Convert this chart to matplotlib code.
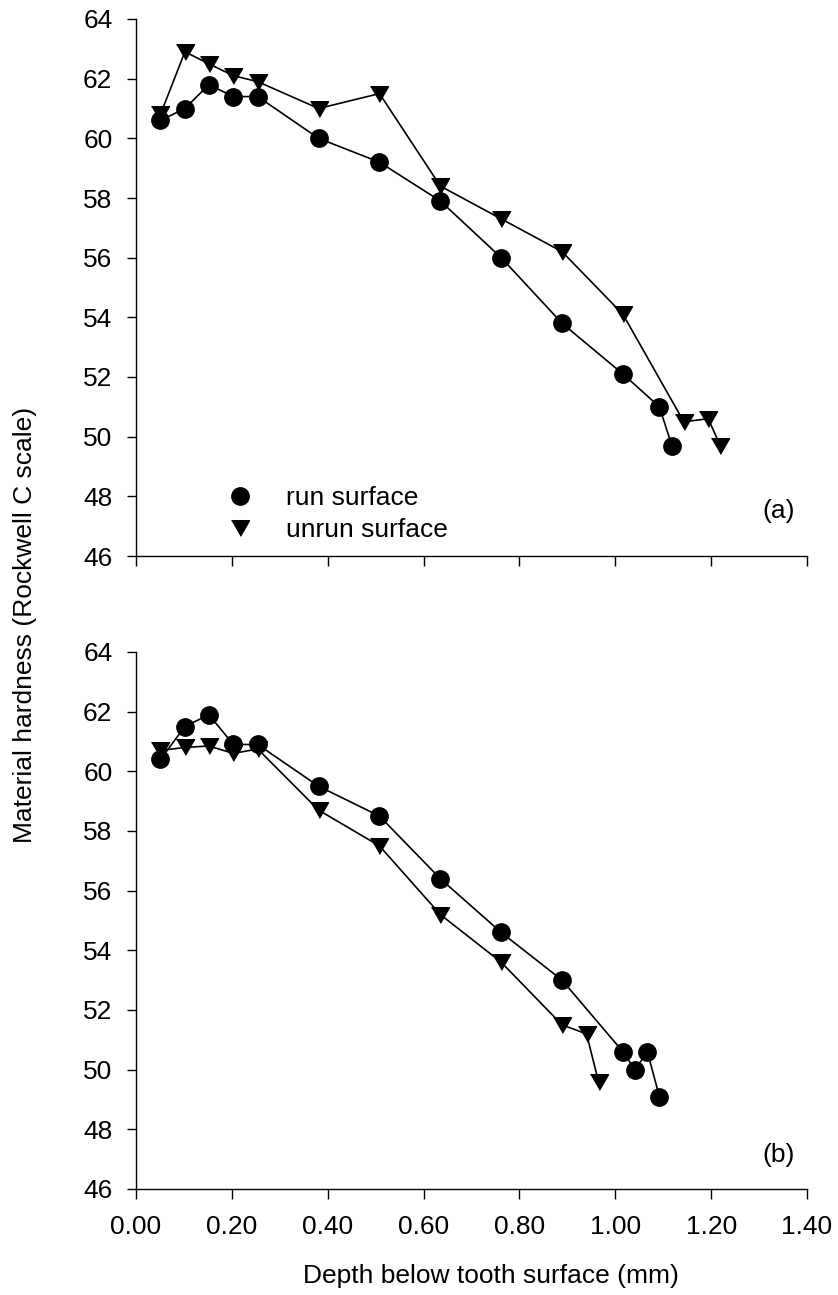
import matplotlib
matplotlib.use("Agg")
import matplotlib.pyplot as plt
from matplotlib.lines import Line2D

plt.rcParams['font.family'] = ['Liberation Sans', 'DejaVu Sans']

# ---- data (depth in mm, hardness HRC) ----
a_run_x = [0.051, 0.102, 0.152, 0.203, 0.254, 0.381, 0.508, 0.635, 0.762, 0.889, 1.016, 1.092, 1.118]
a_run_y = [60.6, 61.0, 61.8, 61.4, 61.4, 60.0, 59.2, 57.9, 56.0, 53.8, 52.1, 51.0, 49.7]
a_unrun_x = [0.051, 0.102, 0.152, 0.203, 0.254, 0.381, 0.508, 0.635, 0.762, 0.889, 1.016, 1.143, 1.194, 1.219]
a_unrun_y = [60.8, 62.9, 62.5, 62.1, 61.9, 61.0, 61.5, 58.4, 57.3, 56.2, 54.1, 50.5, 50.6, 49.7]

b_run_x = [0.051, 0.102, 0.152, 0.203, 0.254, 0.381, 0.508, 0.635, 0.762, 0.889, 1.016, 1.041, 1.067, 1.092]
b_run_y = [60.4, 61.5, 61.9, 60.9, 60.9, 59.5, 58.5, 56.4, 54.6, 53.0, 50.6, 50.0, 50.6, 49.1]
b_unrun_x = [0.051, 0.102, 0.152, 0.203, 0.254, 0.381, 0.508, 0.635, 0.762, 0.889, 0.940, 0.965]
b_unrun_y = [60.7, 60.8, 60.85, 60.6, 60.75, 58.7, 57.5, 55.2, 53.6, 51.5, 51.2, 49.6]

x_ticks = [0.0, 0.2, 0.4, 0.6, 0.8, 1.0, 1.2, 1.4]
x_ticklabels = ['0.00', '0.20', '0.40', '0.60', '0.80', '1.00', '1.20', '1.40']
y_ticks = [46, 48, 50, 52, 54, 56, 58, 60, 62, 64]
labels = ['run surface', 'unrun surface']
panel_tags = ['(a)', '(b)']

W, H = 838, 1295
fig = plt.figure(figsize=(W / 100, H / 100), dpi=100)

tri = [(-1, 0.866), (1, 0.866), (0, -0.866)]
FS = 19
circ_kw = dict(marker='o', markersize=12.5, color='black', linewidth=1.2)
tri_kw = dict(marker=tri, markersize=13, color='black', linewidth=1.2)

def make_ax(top_px, bot_px):
    left, right = 136, 807
    return fig.add_axes([left / W, 1 - bot_px / H, (right - left) / W, (bot_px - top_px) / H])

ax1 = make_ax(19, 556)
ax2 = make_ax(652, 1189)

tag_y = [0.084, 0.063]
for ax, (rx, ry, ux, uy), tag, ty in zip(
        [ax1, ax2],
        [(a_run_x, a_run_y, a_unrun_x, a_unrun_y), (b_run_x, b_run_y, b_unrun_x, b_unrun_y)],
        panel_tags, tag_y):
    ax.plot(ux, uy, **tri_kw, zorder=3)
    ax.plot(rx, ry, **circ_kw, zorder=4)
    ax.set_xlim(0, 1.4)
    ax.set_ylim(46, 64)
    ax.set_xticks(x_ticks)
    ax.set_yticks(y_ticks)
    ax.spines['top'].set_visible(False)
    ax.spines['right'].set_visible(False)
    for s in ['left', 'bottom']:
        ax.spines[s].set_linewidth(1.0)
    ax.tick_params(axis='y', direction='out', length=6.5, width=1.0, labelsize=FS, pad=10.5)
    ax.tick_params(axis='x', direction='out', length=7, width=1.0, labelsize=FS, pad=12)
    ax.text(0.958, ty, tag, transform=ax.transAxes, fontsize=FS, ha='center', va='center')

ax1.set_xticklabels([])
ax2.set_xticklabels(x_ticklabels)

handles = [Line2D([], [], linestyle='none', marker='o', markersize=12.5, color='black'),
           Line2D([], [], linestyle='none', marker=tri, markersize=13, color='black')]
ax1.legend(handles, labels, loc='center left', bbox_to_anchor=(0.135, 0.0785),
           frameon=False, fontsize=FS, handlelength=1.0, handletextpad=1.26,
           labelspacing=0.3, borderpad=0, borderaxespad=0)

fig.text(25 / W, 1 - 625 / H, 'Material hardness (Rockwell C scale)', rotation=90,
         ha='center', va='center', fontsize=FS)
fig.text(491 / W, 1 - 1276 / H, 'Depth below tooth surface (mm)', ha='center', va='center', fontsize=FS)

fig.savefig('out.png', dpi=100)
